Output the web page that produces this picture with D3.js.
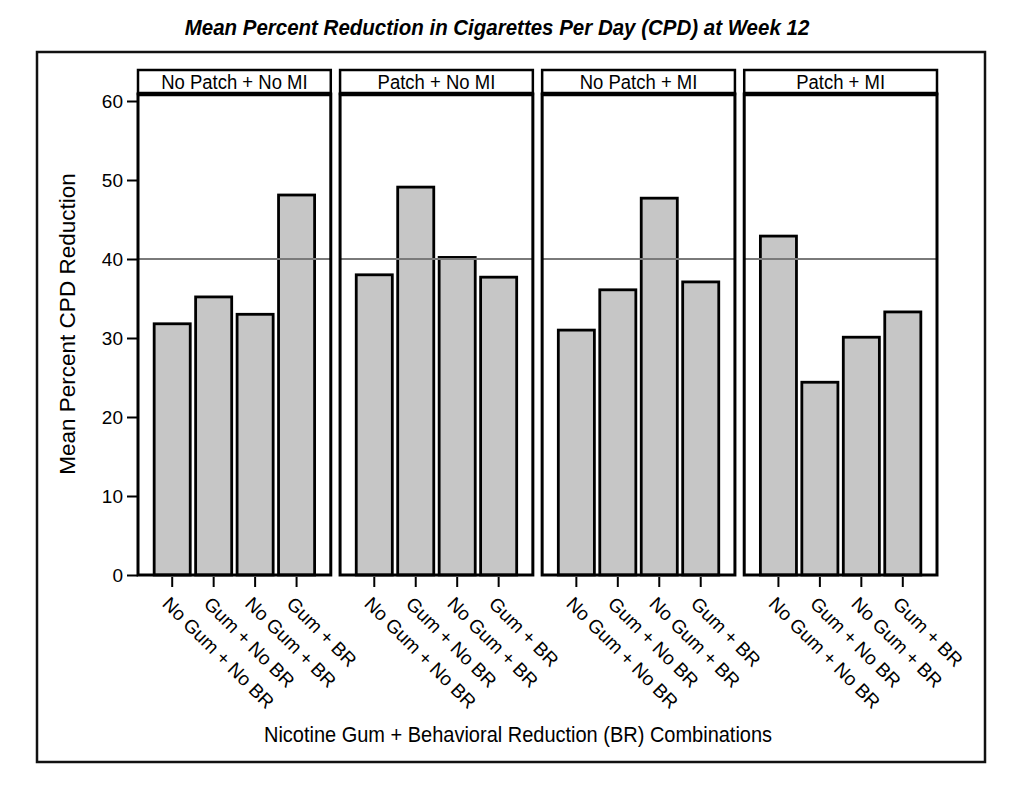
<!DOCTYPE html>
<html>
<head>
  <meta charset="UTF-8">
  <style>
    body {
      margin: 0;
      padding: 0;
      background-color: #ffffff;
    }
    svg {
      display: block;
      font-family: "Liberation Sans", Arial, sans-serif;
    }
  </style>
</head>
<body>
  <svg></svg>
  <script src="https://d3js.org/d3.v7.min.js"></script>
  <script>
  // panels (patch / MI), bar categories (gum / BR) and mean values
  const panels = ["No Patch + No MI", "Patch + No MI", "No Patch + MI", "Patch + MI"];
  const combos = ["No Gum + No BR", "Gum + No BR", "No Gum + BR", "Gum + BR"];
  const values = [
    [31.8, 35.2, 33.0, 48.1],
    [38.0, 49.1, 40.2, 37.7],
    [31.0, 36.1, 47.7, 37.1],
    [42.9, 24.4, 30.1, 33.3]
  ];
  const yTicks = [0, 10, 20, 30, 40, 50, 60];
  const refValue = 40;

  let width = 1020, height = 796;

  let svg = d3.select("svg")
      .attr("width", width)
      .attr("height", height);

  // outer frame
  svg.append("rect")
      .attr("x", 37).attr("y", 52)
      .attr("width", 948).attr("height", 710)
      .attr("fill", "none")
      .attr("stroke", "#111")
      .attr("stroke-width", 2.5);

  // text looks a little stretched vertically in the original, so scale it slightly
  svg.append("text")
      .attr("transform", "translate(497,35) scale(1,1.1)")
      .attr("text-anchor", "middle")
      .style("font-size", "20.5px")
      .style("font-weight", "bold")
      .style("font-style", "italic")
      .text("Mean Percent Reduction in Cigarettes Per Day (CPD) at Week 12");

  const plotTop = 94, headerTop = 70;

  const y = d3.scaleLinear().domain([0, 60]).range([575, 101]);

  const xPanel = d3.scaleBand()
      .domain(panels)
      .range([138, 937])
      .paddingInner(0.046);

  const xBar = d3.scaleBand()
      .domain(combos)
      .range([0, xPanel.bandwidth()])
      .paddingInner(0.13)
      .paddingOuter(0.39);

  const panel = svg.selectAll("g.panel")
      .data(panels)
      .enter()
      .append("g")
      .attr("class", "panel")
      .attr("transform", d => `translate(${xPanel(d)},0)`);

  // bars
  panel.selectAll("rect.bar")
      .data((d, i) => combos.map((c, j) => ({ combo: c, value: values[i][j] })))
      .enter()
      .append("rect")
      .attr("class", "bar")
      .attr("x", d => xBar(d.combo))
      .attr("y", d => y(d.value))
      .attr("width", xBar.bandwidth())
      .attr("height", d => y(0) - y(d.value))
      .attr("fill", "#c6c6c6")
      .attr("stroke", "#000")
      .attr("stroke-width", 2.8);

  // reference line at 40
  panel.append("line")
      .attr("x1", 0).attr("x2", xPanel.bandwidth())
      .attr("y1", y(refValue)).attr("y2", y(refValue))
      .attr("stroke", "#7a7a7a")
      .attr("stroke-width", 2.2);

  // panel border
  panel.append("rect")
      .attr("x", 0).attr("y", plotTop)
      .attr("width", xPanel.bandwidth())
      .attr("height", y(0) - plotTop)
      .attr("fill", "none")
      .attr("stroke", "#000")
      .attr("stroke-width", 3);

  // header strip
  panel.append("rect")
      .attr("x", 0).attr("y", headerTop)
      .attr("width", xPanel.bandwidth())
      .attr("height", plotTop - headerTop)
      .attr("fill", "#fff")
      .attr("stroke", "#000")
      .attr("stroke-width", 2.5);

  panel.append("line")
      .attr("x1", 0).attr("x2", xPanel.bandwidth())
      .attr("y1", plotTop).attr("y2", plotTop)
      .attr("stroke", "#000")
      .attr("stroke-width", 4.5);

  panel.append("text")
      .attr("transform", `translate(${xPanel.bandwidth() / 2},88.5) scale(1,1.08)`)
      .attr("text-anchor", "middle")
      .style("font-size", "18.5px")
      .text(d => d);

  // x ticks and rotated labels
  panel.selectAll("line.xtick")
      .data(combos)
      .enter()
      .append("line")
      .attr("class", "xtick")
      .attr("x1", d => xBar(d) + xBar.bandwidth() / 2)
      .attr("x2", d => xBar(d) + xBar.bandwidth() / 2)
      .attr("y1", y(0) + 2)
      .attr("y2", y(0) + 12)
      .attr("stroke", "#000")
      .attr("stroke-width", 2);

  panel.selectAll("text.xlab")
      .data(combos)
      .enter()
      .append("text")
      .attr("class", "xlab")
      .attr("transform", d => `translate(${xBar(d) + xBar.bandwidth() / 2 - 11},${y(0) + 30}) rotate(45)`)
      .style("font-size", "19px")
      .text(d => d);

  // y axis on first panel
  const yAxis = svg.append("g")
      .attr("transform", `translate(${xPanel(panels[0])},0)`)
      .call(d3.axisLeft(y).tickValues(yTicks).tickSize(11).tickPadding(4).tickFormat(d3.format("d")));

  yAxis.select(".domain").remove();
  yAxis.selectAll(".tick line").attr("stroke", "#000").attr("stroke-width", 2);
  yAxis.selectAll(".tick text")
      .attr("fill", "#000")
      .style("font-size", "19px")
      .style("font-family", "'Liberation Sans', Arial, sans-serif");

  svg.append("text")
      .attr("transform", "translate(75,324) rotate(-90)")
      .attr("text-anchor", "middle")
      .style("font-size", "22.5px")
      .text("Mean Percent CPD Reduction");

  svg.append("text")
      .attr("transform", "translate(518,742) scale(1,1.08)")
      .attr("text-anchor", "middle")
      .style("font-size", "20px")
      .text("Nicotine Gum + Behavioral Reduction (BR) Combinations");

  </script>
</body>
</html>
